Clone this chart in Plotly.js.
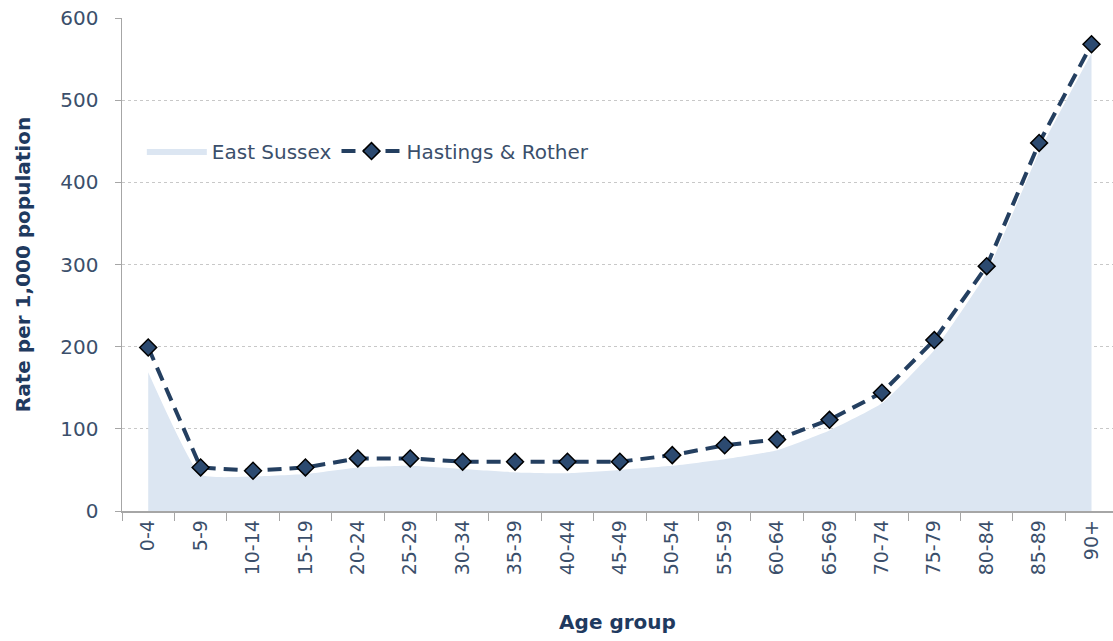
<!DOCTYPE html>
<html>
<head>
<meta charset="utf-8">
<script src="https://cdn.plot.ly/plotly-3.0.1.min.js"></script>
<style>html,body{margin:0;padding:0;background:#fff;}#chart{width:1113px;height:641px;}</style>
</head>
<body>
<div id="chart"></div>
<script>
const ageGroups = ["0-4","5-9","10-14","15-19","20-24","25-29","30-34","35-39","40-44","45-49","50-54","55-59","60-64","65-69","70-74","75-79","80-84","85-89","90+"];
const eastSussex = [169, 44, 42, 45, 53, 55, 51, 47, 46, 50, 55, 63, 74, 98, 131, 196, 290, 437, 557];
const hastingsRother = [199, 53, 49, 53, 64, 64, 60, 60, 60, 60, 68, 80, 87, 111, 144, 208, 298, 448, 568];
const yTicks = [0, 100, 200, 300, 400, 500, 600];

const textColor = "#3B4F6B";
const navy = "#1F3A5F";
const fam = "'DejaVu Sans', sans-serif";

const traces = [
  {
    x: ageGroups, y: eastSussex, name: "East Sussex",
    type: "scatter", mode: "lines", fill: "tozeroy",
    fillcolor: "#DCE6F2", line: {color: "rgba(0,0,0,0)", width: 0, shape: "spline", smoothing: 0.4},
    hoverinfo: "x+y"
  },
  {
    x: ageGroups, y: hastingsRother, name: "Hastings & Rother",
    type: "scatter", mode: "lines+markers",
    line: {color: "#243F60", width: 4, dash: "14px,8px"},
    marker: {symbol: "diamond", size: 13, color: "#2C4A70", line: {color: "#000", width: 1.5}}
  }
];

const layout = {
  width: 1113, height: 641,
  margin: {l: 122, r: 0, t: 18, b: 130},
  paper_bgcolor: "#fff", plot_bgcolor: "#fff",
  font: {family: fam, color: textColor},
  showlegend: true,
  legend: {
    orientation: "h", x: 0.02, y: 0.73, xanchor: "left", yanchor: "middle",
    font: {size: 20, color: textColor, family: fam},
    bgcolor: "rgba(0,0,0,0)", tracegroupgap: 0, itemwidth: 60
  },
  xaxis: {
    type: "category", range: [-0.5, 18.41],
    tickmode: "array", tickvals: ageGroups, ticktext: ageGroups,
    tickangle: -90, tickson: "boundaries", ticks: "outside", ticklen: 8,
    tickcolor: "#A6A6A6", showline: true, linecolor: "#A6A6A6", linewidth: 1.5,
    showgrid: false, zeroline: false,
    tickfont: {size: 19, color: textColor, family: fam},
    title: {text: "<b>Age group</b>", font: {size: 20, color: navy, family: fam}, standoff: 40}
  },
  yaxis: {
    range: [0, 600], tickmode: "array", tickvals: yTicks,
    ticks: "outside", ticklen: 6, tickcolor: "#A6A6A6",
    showline: true, linecolor: "#A6A6A6", linewidth: 1.5,
    showgrid: true, gridcolor: "#C8C8C8", griddash: "dot", gridwidth: 1,
    zeroline: false, ticklabelstandoff: 12,
    tickfont: {size: 20, color: textColor, family: fam},
    title: {text: "<b>Rate per 1,000 population</b>", font: {size: 20, color: navy, family: fam}, standoff: 24}
  }
};

Plotly.newPlot("chart", traces, layout, {displayModeBar: false, staticPlot: true});
</script>
</body>
</html>
